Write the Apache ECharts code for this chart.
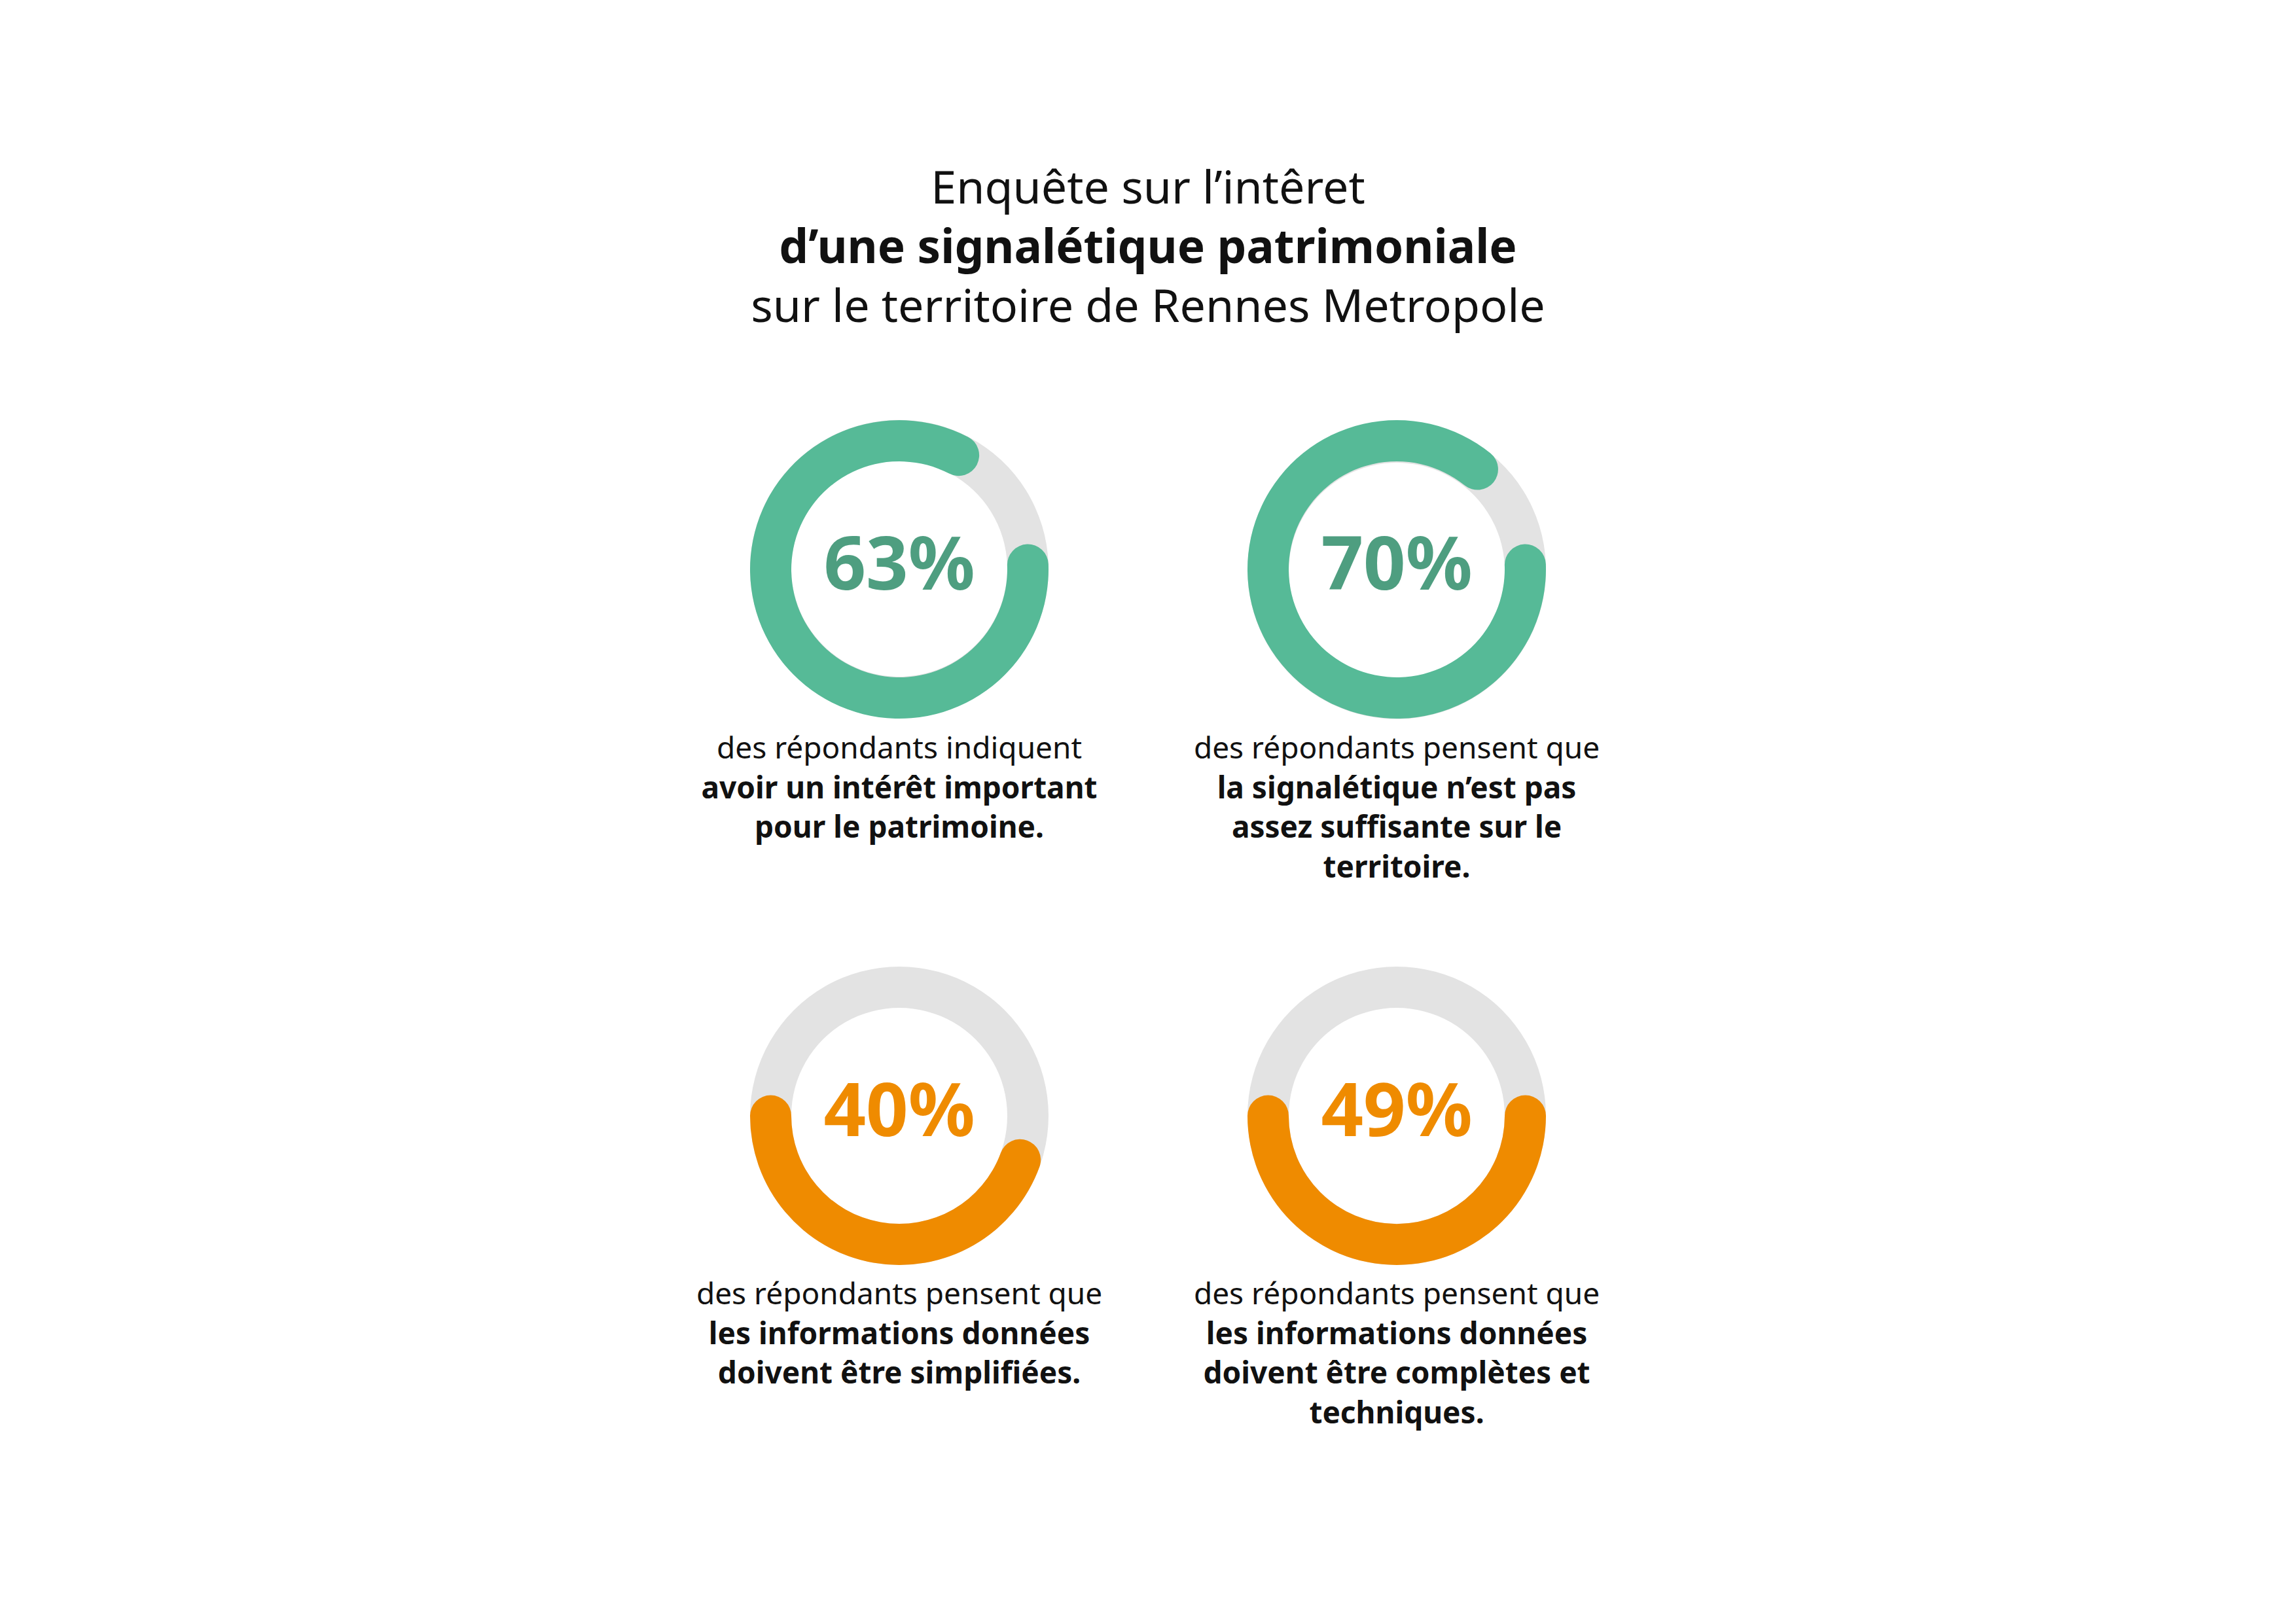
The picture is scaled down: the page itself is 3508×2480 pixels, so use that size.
<!DOCTYPE html>
<html>
<head>
<meta charset="utf-8">
<script src="https://cdn.jsdelivr.net/npm/echarts@6/dist/echarts.min.js"></script>
<style>
html,body{margin:0;padding:0;background:#ffffff;}
#chart{width:3508px;height:2480px;}
</style>
</head>
<body>
<div id="chart"></div>
<script>
// ---------- data ----------
const titleLines = ['Enquête sur l’intêret', 'd’une signalétique patrimoniale', 'sur le territoire de Rennes Metropole'];
const percentages = [63, 70, 40, 49];
const leadTexts = [
  'des répondants indiquent',
  'des répondants pensent que',
  'des répondants pensent que',
  'des répondants pensent que'
];
const boldTexts = [
  ['avoir un intérêt important', 'pour le patrimoine.'],
  ['la signalétique n’est pas', 'assez suffisante sur le', 'territoire.'],
  ['les informations données', 'doivent être simplifiées.'],
  ['les informations données', 'doivent être complètes et', 'techniques.']
];

// ---------- layout / style ----------
const FONT = '"Noto Sans", "DejaVu Sans", sans-serif';
const centers = [[1374, 870], [2134, 870], [1374, 1705], [2134, 1705]];
const ringColors = ['#56BA97', '#56BA97', '#EF8B00', '#EF8B00'];
const labelColors = ['#4E9E80', '#4E9E80', '#EF8B00', '#EF8B00'];
const TRACK = '#E3E3E3';
const OUTER_R = 228;
const BAND = 63;
// arc geometry per row (the infographic's arcs are drawn on its own scale)
const rowArc = [
  { startAngle: 2, endAngle: -358, clockwise: true, min: -120, max: 100 },
  { startAngle: 180, endAngle: 540, clockwise: false, min: -32, max: 130 }
];
const captionTop = [1141, 1141, 1975, 1975];
const CAPTION_STEP = 60.5;

const series = percentages.map((v, i) => {
  const arc = rowArc[i < 2 ? 0 : 1];
  return {
    type: 'gauge',
    center: centers[i],
    radius: OUTER_R,
    startAngle: arc.startAngle,
    endAngle: arc.endAngle,
    clockwise: arc.clockwise,
    min: arc.min,
    max: arc.max,
    silent: true,
    animation: false,
    axisLine: { show: true, roundCap: false, lineStyle: { width: BAND, color: [[1, TRACK]] } },
    progress: { show: true, roundCap: true, width: BAND, itemStyle: { color: ringColors[i] } },
    pointer: { show: false },
    anchor: { show: false },
    axisTick: { show: false },
    splitLine: { show: false },
    axisLabel: { show: false },
    title: { show: false },
    detail: {
      show: true,
      formatter: '{value}%',
      offsetCenter: [0, -13],
      fontSize: 113,
      lineHeight: 124,
      width: 400,
      fontWeight: 'bold',
      fontFamily: FONT,
      color: labelColors[i],
      valueAnimation: false
    },
    data: [{ value: v }]
  };
});

const graphics = [];
const titleY = [284, 374, 465];
titleLines.forEach((t, k) => {
  graphics.push({
    type: 'text', x: 1754, y: titleY[k], silent: true,
    style: {
      text: t, fill: '#111111',
      font: (k === 1 ? '700 71px ' : '400 70px ') + FONT,
      textAlign: 'center', textVerticalAlign: 'middle',
      align: 'center', verticalAlign: 'middle'
    }
  });
});
percentages.forEach((v, i) => {
  const lines = [{ t: leadTexts[i], b: false }].concat(boldTexts[i].map(t => ({ t, b: true })));
  lines.forEach((ln, k) => {
    graphics.push({
      type: 'text', x: centers[i][0], y: captionTop[i] + k * CAPTION_STEP, silent: true,
      style: {
        text: ln.t, fill: '#111111',
        font: (ln.b ? '700 ' : '400 ') + '46px ' + FONT,
        textAlign: 'center', textVerticalAlign: 'middle',
        align: 'center', verticalAlign: 'middle'
      }
    });
  });
});

const chart = echarts.init(document.getElementById('chart'), null, { renderer: 'svg', width: 3508, height: 2480 });
chart.setOption({
  backgroundColor: '#ffffff',
  animation: false,
  series: series,
  graphic: { elements: graphics }
});
</script>
</body>
</html>
